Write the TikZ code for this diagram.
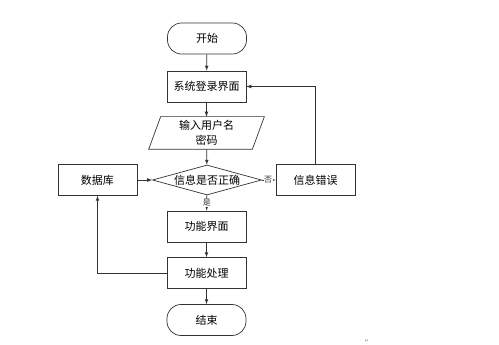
\documentclass[tikz,border=0pt]{standalone}
\usepackage{fontspec}
\newfontfamily\cjk{Noto Sans CJK SC}
\newfontfamily\symfont{DejaVu Sans}
\usetikzlibrary{shapes.geometric}

\begin{document}
\begin{tikzpicture}[x=1pt,y=-1pt,line width=0.7pt,>=latex,
    font=\cjk\fontsize{11}{15}\selectfont,
    proc/.style={draw=black!80,minimum width=79pt,minimum height=31pt,inner sep=0pt},
    term/.style={proc,rounded corners=14pt},
    decide/.style={draw=black!80,diamond,aspect=3.6,minimum width=109pt,minimum height=30pt,inner sep=0pt},
    flow/.style={->,black!80},
    lbl/.style={font=\cjk\fontsize{8}{9}\selectfont,inner sep=0.5pt,fill=white}]
      \useasboundingbox (0,0) rectangle (499,345);
      % main column
      \node[term] (start) at (207,38.5) {开始};
      \node[proc] (login) at (206.5,86.5) {系统登录界面};
      \node[minimum width=103pt,minimum height=32pt,inner sep=0pt,align=center] (input) at (206.5,133) {输入用户名\\密码};
      \draw[black!80] ([xshift=6pt]input.north west) -- ([xshift=6pt]input.north east)
        -- ([xshift=-6pt]input.south east) -- ([xshift=-6pt]input.south west) -- cycle;
      \node[decide] (check) at (207,180) {信息是否正确};
      \node[proc] (db) at (97.5,180) {数据库};
      \node[proc] (err) at (315.5,180) {信息错误};
      \node[proc] (func) at (206.5,226.5) {功能界面};
      \node[proc] (work) at (206.5,273) {功能处理};
      \node[term] (finish) at (206.5,320) {结束};
      \node[font=\symfont\fontsize{5}{6}\selectfont,text=black!50] (mark) at (367,341) {↵};
      % connectors
      \draw[flow] (start) -- (login);
      \draw[flow] (login) -- (input);
      \draw[flow] (input) -- (check);
      \draw[flow] (db) -- (check);
      \draw[flow] (check) -- node[lbl,pos=0.45] {否} (err);
      \draw[flow] (check) -- node[lbl,pos=0.5] {是} (func);
      \draw[flow] (err.north) |- (login.east);
      \draw[flow] (func) -- (work);
      \draw[flow] (work) -- (finish);
      \draw[flow] (work.west) -| (db.south);
    \end{tikzpicture}
\end{document}
